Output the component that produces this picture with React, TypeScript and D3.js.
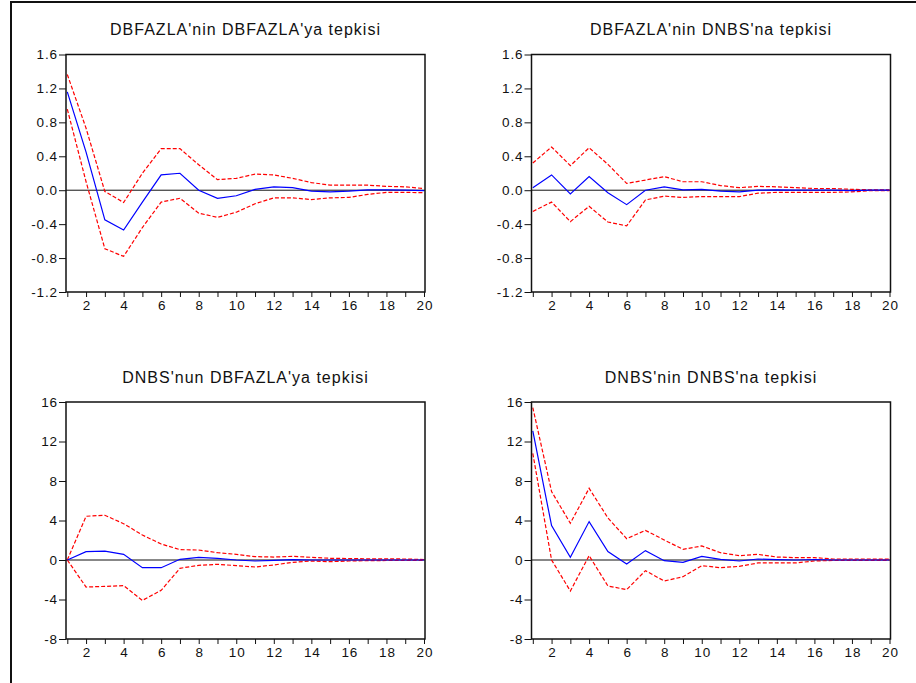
import React, { useEffect, useRef } from "react";
import * as d3 from "d3";

// periods 1..20
const periods = d3.range(1, 21);

// DBFAZLA'nin DBFAZLA'ya tepkisi
const p1Resp = [1.16, 0.45, -0.35, -0.47, -0.14, 0.18, 0.2, 0.0, -0.095, -0.065, 0.01, 0.04, 0.03, -0.01, -0.02, -0.01, 0.005, 0.005, 0.0, -0.005];
const p1Upper = [1.365, 0.73, -0.015, -0.145, 0.2, 0.49, 0.49, 0.3, 0.125, 0.14, 0.19, 0.18, 0.14, 0.09, 0.06, 0.06, 0.06, 0.045, 0.04, 0.02];
const p1Lower = [0.955, 0.1, -0.69, -0.78, -0.44, -0.14, -0.095, -0.27, -0.32, -0.26, -0.16, -0.09, -0.09, -0.11, -0.09, -0.085, -0.05, -0.025, -0.025, -0.03];

// DBFAZLA'nin DNBS'na tepkisi
const p2Resp = [0.03, 0.18, -0.045, 0.16, -0.03, -0.17, 0.0, 0.04, 0.005, 0.01, -0.01, -0.02, 0.0, 0.005, 0.0, 0.0, 0.0, -0.005, 0.0, 0.0];
const p2Upper = [0.32, 0.51, 0.29, 0.5, 0.305, 0.08, 0.12, 0.16, 0.1, 0.1, 0.055, 0.03, 0.045, 0.04, 0.03, 0.02, 0.02, 0.01, 0.005, 0.005];
const p2Lower = [-0.25, -0.14, -0.37, -0.19, -0.375, -0.42, -0.115, -0.07, -0.085, -0.075, -0.075, -0.075, -0.035, -0.025, -0.025, -0.025, -0.025, -0.02, -0.005, -0.005];

// DNBS'nun DBFAZLA'ya tepkisi
const p3Resp = [0.0, 0.85, 0.9, 0.57, -0.78, -0.78, 0.07, 0.27, 0.17, 0.0, -0.1, -0.03, 0.03, 0.0, 0.0, 0.0, 0.0, 0.0, 0.0, 0.0];
const p3Upper = [0.0, 4.43, 4.53, 3.68, 2.53, 1.62, 1.05, 1.01, 0.74, 0.57, 0.34, 0.3, 0.37, 0.27, 0.17, 0.15, 0.12, 0.12, 0.1, 0.05];
const p3Lower = [0.0, -2.74, -2.67, -2.6, -4.09, -3.07, -0.84, -0.54, -0.44, -0.57, -0.71, -0.5, -0.24, -0.1, -0.17, -0.1, -0.07, -0.05, -0.05, -0.05];

// DNBS'nin DNBS'na tepkisi
const p4Resp = [13.07, 3.48, 0.27, 3.89, 0.85, -0.4, 0.95, -0.07, -0.24, 0.37, 0.07, -0.1, 0.1, 0.03, 0.0, 0.05, 0.0, 0.0, 0.0, 0.0];
const p4Upper = [15.44, 6.93, 3.72, 7.26, 4.26, 2.16, 3.0, 2.03, 1.08, 1.42, 0.74, 0.44, 0.57, 0.3, 0.24, 0.24, 0.1, 0.1, 0.1, 0.08];
const p4Lower = [10.8, 0.0, -3.14, 0.44, -2.63, -3.0, -1.08, -2.13, -1.69, -0.57, -0.78, -0.64, -0.3, -0.3, -0.3, -0.1, -0.05, -0.03, -0.03, -0.03];

const titles = [
  "DBFAZLA'nin DBFAZLA'ya tepkisi",
  "DBFAZLA'nin DNBS'na tepkisi",
  "DNBS'nun DBFAZLA'ya tepkisi",
  "DNBS'nin DNBS'na tepkisi",
];

const smallTicks = [-1.2, -0.8, -0.4, 0.0, 0.4, 0.8, 1.2, 1.6];
const bigTicks = [-8, -4, 0, 4, 8, 12, 16];
const xTickLabels = [2, 4, 6, 8, 10, 12, 14, 16, 18, 20];

const font = "'Liberation Sans', Arial, sans-serif";

const App = () => {
  const svgRef = useRef(null);

  useEffect(() => {
    const width = 916;
    const height = 683;

    const svg = d3.select(svgRef.current).attr("width", width).attr("height", height);
    svg.selectAll("*").remove();

    svg.append("rect").attr("width", width).attr("height", height).attr("fill", "#fff");

    // outer frame (only left and top visible)
    svg
      .append("path")
      .attr("d", `M11,${height + 5}V2H${width + 5}`)
      .attr("fill", "none")
      .attr("stroke", "#111")
      .attr("stroke-width", 2);

    const panels = [
      { left: 66, top: 54.5, bottom: 292, ticks: smallTicks, dom: [-1.2, 1.6], fmt: (d) => d.toFixed(1), resp: p1Resp, up: p1Upper, lo: p1Lower, titleY: 35 },
      { left: 531.5, top: 54.5, bottom: 292, ticks: smallTicks, dom: [-1.2, 1.6], fmt: (d) => d.toFixed(1), resp: p2Resp, up: p2Upper, lo: p2Lower, titleY: 35 },
      { left: 66, top: 402, bottom: 639, ticks: bigTicks, dom: [-8, 16], fmt: (d) => String(d), resp: p3Resp, up: p3Upper, lo: p3Lower, titleY: 383 },
      { left: 531.5, top: 402, bottom: 639, ticks: bigTicks, dom: [-8, 16], fmt: (d) => String(d), resp: p4Resp, up: p4Upper, lo: p4Lower, titleY: 383 },
    ];

    panels.forEach((p, i) => {
      const right = p.left + 359;
      const x = d3.scaleLinear().domain([1, 20]).range([p.left + 1.3, right - 1]);
      const y = d3.scaleLinear().domain(p.dom).range([p.bottom, p.top]);

      const g = svg.append("g");

      // title
      g.append("text")
        .attr("x", (p.left + right) / 2)
        .attr("y", p.titleY)
        .attr("text-anchor", "middle")
        .attr("font-family", font)
        .attr("font-size", 16)
        .attr("letter-spacing", 1)
        .attr("fill", "#111")
        .text(titles[i]);

      // y axis
      const yAxis = d3
        .axisLeft(y)
        .tickValues(p.ticks)
        .tickSize(7)
        .tickPadding(1)
        .tickFormat(p.fmt);
      const ya = g.append("g").attr("transform", `translate(${p.left},0)`).call(yAxis);
      ya.select(".domain").remove();
      ya.selectAll("line").attr("stroke", "#111");
      ya.selectAll("text")
        .attr("font-family", font)
        .attr("font-size", 13.5)
        .attr("letter-spacing", 0.9)
        .attr("fill", "#111");

      // x axis
      const xAxis = d3
        .axisBottom(x)
        .tickValues(periods)
        .tickSize(5)
        .tickPadding(3)
        .tickFormat((d) => (xTickLabels.includes(d) ? String(d) : ""));
      const xa = g.append("g").attr("transform", `translate(0,${p.bottom})`).call(xAxis);
      xa.select(".domain").remove();
      xa.selectAll("line").attr("stroke", "#111");
      xa.selectAll("text")
        .attr("font-family", font)
        .attr("font-size", 13.5)
        .attr("letter-spacing", 0.9)
        .attr("dx", 0.45)
        .attr("fill", "#111");

      // zero line
      g.append("line")
        .attr("x1", p.left)
        .attr("x2", right)
        .attr("y1", y(0))
        .attr("y2", y(0))
        .attr("stroke", "#111")
        .attr("stroke-width", 1);

      const line = d3
        .line()
        .x((d, j) => x(periods[j]))
        .y((d) => y(d));

      [p.up, p.lo].forEach((band) => {
        g.append("path")
          .datum(band)
          .attr("fill", "none")
          .attr("stroke", "#ff0000")
          .attr("stroke-width", 1.2)
          .attr("stroke-dasharray", "4,2")
          .attr("d", line);
      });

      g.append("path")
        .datum(p.resp)
        .attr("fill", "none")
        .attr("stroke", "#0000ff")
        .attr("stroke-width", 1.2)
        .attr("d", line);

      // plot box
      g.append("rect")
        .attr("x", p.left)
        .attr("y", p.top)
        .attr("width", right - p.left)
        .attr("height", p.bottom - p.top)
        .attr("fill", "none")
        .attr("stroke", "#111")
        .attr("stroke-width", 1.5);
    });
  }, []);

  return <svg ref={svgRef} style={{ position: "absolute", left: 0, top: 0 }}></svg>;
};

export default App;
